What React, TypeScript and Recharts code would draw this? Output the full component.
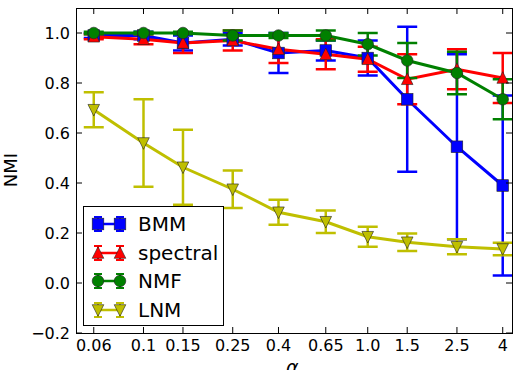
import { LineChart, Line, XAxis, YAxis, ErrorBar } from 'recharts';

const alphas = [0.06, 0.1, 0.15, 0.25, 0.4, 0.65, 1.0, 1.5, 2.5, 4];
const bmm = [0.99, 0.99, 0.96, 0.975, 0.92, 0.93, 0.9, 0.735, 0.545, 0.39];
const bmmErr = [0.01, 0.015, 0.03, 0.025, 0.08, 0.04, 0.07, 0.29, 0.37, 0.36];
const spectral = [0.985, 0.975, 0.96, 0.97, 0.935, 0.915, 0.895, 0.815, 0.855, 0.82];
const spectralErr = [0.01, 0.02, 0.04, 0.04, 0.055, 0.06, 0.05, 0.1, 0.08, 0.1];
const nmf = [1.0, 1.0, 1.0, 0.99, 0.99, 0.99, 0.955, 0.89, 0.84, 0.735];
const nmfErr = [0.005, 0.005, 0.005, 0.02, 0.01, 0.02, 0.045, 0.07, 0.085, 0.08];
const lnm = [0.693, 0.56, 0.463, 0.375, 0.283, 0.245, 0.185, 0.163, 0.145, 0.136];
const lnmErr = [0.07, 0.175, 0.15, 0.075, 0.05, 0.045, 0.04, 0.035, 0.03, 0.025];

const xTicks = [0.06, 0.1, 0.15, 0.25, 0.4, 0.65, 1.0, 1.5, 2.5, 4];
const xTickLabels = ['0.06', '0.1', '0.15', '0.25', '0.4', '0.65', '1.0', '1.5', '2.5', '4'];
const yTicks = [-0.2, 0, 0.2, 0.4, 0.6, 0.8, 1.0];

const data = alphas.map((a, i) => ({
  a,
  bmm: bmm[i], bmmErr: bmmErr[i],
  spectral: spectral[i], spectralErr: spectralErr[i],
  nmf: nmf[i], nmfErr: nmfErr[i],
  lnm: lnm[i], lnmErr: lnmErr[i],
}));

const FONT = '"DejaVu Sans", sans-serif';
const W = 513;
const H = 370;
const PLOT = { left: 76, top: 8, right: 512, bottom: 333 };

const BLUE = '#0000ff';
const RED = '#ff0000';
const GREEN = '#008000';
const YELLOW = '#bfbf00';

type Shape = 'square' | 'triangle' | 'circle' | 'down';

function Marker({ cx, cy, shape, color }: { cx: number; cy: number; shape: Shape; color: string }) {
  const s = 5.8;
  const edge = { stroke: '#222', strokeWidth: 0.6 };
  if (shape === 'square') return <rect x={cx - s} y={cy - s} width={2 * s} height={2 * s} fill={color} {...edge} />;
  if (shape === 'circle') return <circle cx={cx} cy={cy} r={s} fill={color} {...edge} />;
  if (shape === 'triangle')
    return <polygon points={`${cx},${cy - s - 0.5} ${cx - s},${cy + s - 0.5} ${cx + s},${cy + s - 0.5}`} fill={color} {...edge} />;
  return <polygon points={`${cx},${cy + s + 0.5} ${cx - s},${cy - s + 0.5} ${cx + s},${cy - s + 0.5}`} fill={color} {...edge} />;
}

const dotFor = (shape: Shape, color: string) => (p: any) => (
  <Marker key={`${shape}-${p.index}`} cx={p.cx} cy={p.cy} shape={shape} color={color} />
);

const XTick = (p: any) => {
  const i = xTicks.indexOf(p.payload.value);
  return (
    <g>
      <line x1={p.x} x2={p.x} y1={PLOT.bottom} y2={PLOT.bottom - 6} stroke="#000" />
      <line x1={p.x} x2={p.x} y1={PLOT.top} y2={PLOT.top + 6} stroke="#000" />
      <text x={p.x} y={PLOT.bottom + 18} textAnchor="middle" fontSize={16} fontFamily={FONT} fill="#000">
        {i >= 0 ? xTickLabels[i] : p.payload.value}
      </text>
    </g>
  );
};

const YTick = (p: any) => {
  const v = p.payload.value as number;
  const label = (v < 0 ? '\u2212' : '') + Math.abs(v).toFixed(1);
  return (
    <g>
      <line x1={PLOT.left} x2={PLOT.left + 6} y1={p.y} y2={p.y} stroke="#000" />
      <line x1={PLOT.right} x2={PLOT.right - 6} y1={p.y} y2={p.y} stroke="#000" />
      <text x={PLOT.left - 6} y={p.y + 6} textAnchor="end" fontSize={16} fontFamily={FONT} fill="#000">
        {label}
      </text>
    </g>
  );
};

const legendItems: { name: string; shape: Shape; color: string }[] = [
  { name: 'BMM', shape: 'square', color: BLUE },
  { name: 'spectral', shape: 'triangle', color: RED },
  { name: 'NMF', shape: 'circle', color: GREEN },
  { name: 'LNM', shape: 'down', color: YELLOW },
];

function LegendIcon({ shape, color }: { shape: Shape; color: string }) {
  const xs = [8, 30];
  return (
    <svg width={40} height={24} style={{ display: 'block' }}>
      <line x1={xs[0]} x2={xs[1]} y1={12} y2={12} stroke={color} strokeWidth={2.5} />
      {xs.map((x) => (
        <g key={x}>
          <line x1={x} x2={x} y1={5} y2={19} stroke={color} strokeWidth={2} />
          <line x1={x - 4} x2={x + 4} y1={5} y2={5} stroke={color} strokeWidth={2} />
          <line x1={x - 4} x2={x + 4} y1={19} y2={19} stroke={color} strokeWidth={2} />
          <Marker cx={x} cy={12} shape={shape} color={color} />
        </g>
      ))}
    </svg>
  );
}

export default function App() {
  return (
    <div style={{ position: 'relative', width: W, height: H, overflow: 'hidden', background: '#fff', fontFamily: FONT }}>
      <style>{'body{margin:0}'}</style>
      <LineChart width={W} height={H} data={data} margin={{ top: PLOT.top, right: W - PLOT.right, bottom: 0, left: 0 }}>
        <XAxis
          dataKey="a"
          type="number"
          scale="log"
          domain={[0.05, 4.4]}
          ticks={xTicks}
          allowDataOverflow
          axisLine={false}
          tickLine={false}
          tickSize={0}
          height={H - PLOT.bottom}
          tick={XTick}
          interval={0}
        />
        <YAxis
          type="number"
          domain={[-0.2, 1.1]}
          ticks={yTicks}
          allowDataOverflow
          axisLine={false}
          tickLine={false}
          tickSize={0}
          width={PLOT.left}
          tick={YTick}
          interval={0}
        />
        <Line dataKey="bmm" stroke={BLUE} strokeWidth={3} dot={dotFor('square', BLUE)} activeDot={false} isAnimationActive={false}>
          <ErrorBar dataKey="bmmErr" direction="y" width={10} stroke={BLUE} strokeWidth={2.5} isAnimationActive={false} />
        </Line>
        <Line dataKey="spectral" stroke={RED} strokeWidth={3} dot={dotFor('triangle', RED)} activeDot={false} isAnimationActive={false}>
          <ErrorBar dataKey="spectralErr" direction="y" width={10} stroke={RED} strokeWidth={2.5} isAnimationActive={false} />
        </Line>
        <Line dataKey="nmf" stroke={GREEN} strokeWidth={3} dot={dotFor('circle', GREEN)} activeDot={false} isAnimationActive={false}>
          <ErrorBar dataKey="nmfErr" direction="y" width={10} stroke={GREEN} strokeWidth={2.5} isAnimationActive={false} />
        </Line>
        <Line dataKey="lnm" stroke={YELLOW} strokeWidth={3} dot={dotFor('down', YELLOW)} activeDot={false} isAnimationActive={false}>
          <ErrorBar dataKey="lnmErr" direction="y" width={10} stroke={YELLOW} strokeWidth={2.5} isAnimationActive={false} />
        </Line>
      </LineChart>
      <div
        style={{
          position: 'absolute',
          left: PLOT.left,
          top: PLOT.top,
          width: PLOT.right - PLOT.left - 1,
          height: PLOT.bottom - PLOT.top - 1,
          border: '1px solid #000',
          pointerEvents: 'none',
        }}
      />
      <div
        style={{
          position: 'absolute',
          left: 83,
          top: 206,
          width: 141,
          height: 120,
          border: '1px solid #000',
          background: '#fff',
          padding: '3px 0 0 6px',
          boxSizing: 'border-box',
        }}
      >
        {legendItems.map((it) => (
          <div key={it.name} style={{ display: 'flex', alignItems: 'center', height: 28.5 }}>
            <LegendIcon shape={it.shape} color={it.color} />
            <span style={{ fontSize: 20, marginLeft: 8, lineHeight: 1 }}>{it.name}</span>
          </div>
        ))}
      </div>
      <div
        style={{
          position: 'absolute',
          left: 10,
          top: 170,
          transform: 'translate(-50%, -50%) rotate(-90deg)',
          fontSize: 18,
          whiteSpace: 'nowrap',
        }}
      >
        NMI
      </div>
      <div style={{ position: 'absolute', left: 286, top: 356, fontSize: 19, fontStyle: 'italic' }}>α</div>
    </div>
  );
}
